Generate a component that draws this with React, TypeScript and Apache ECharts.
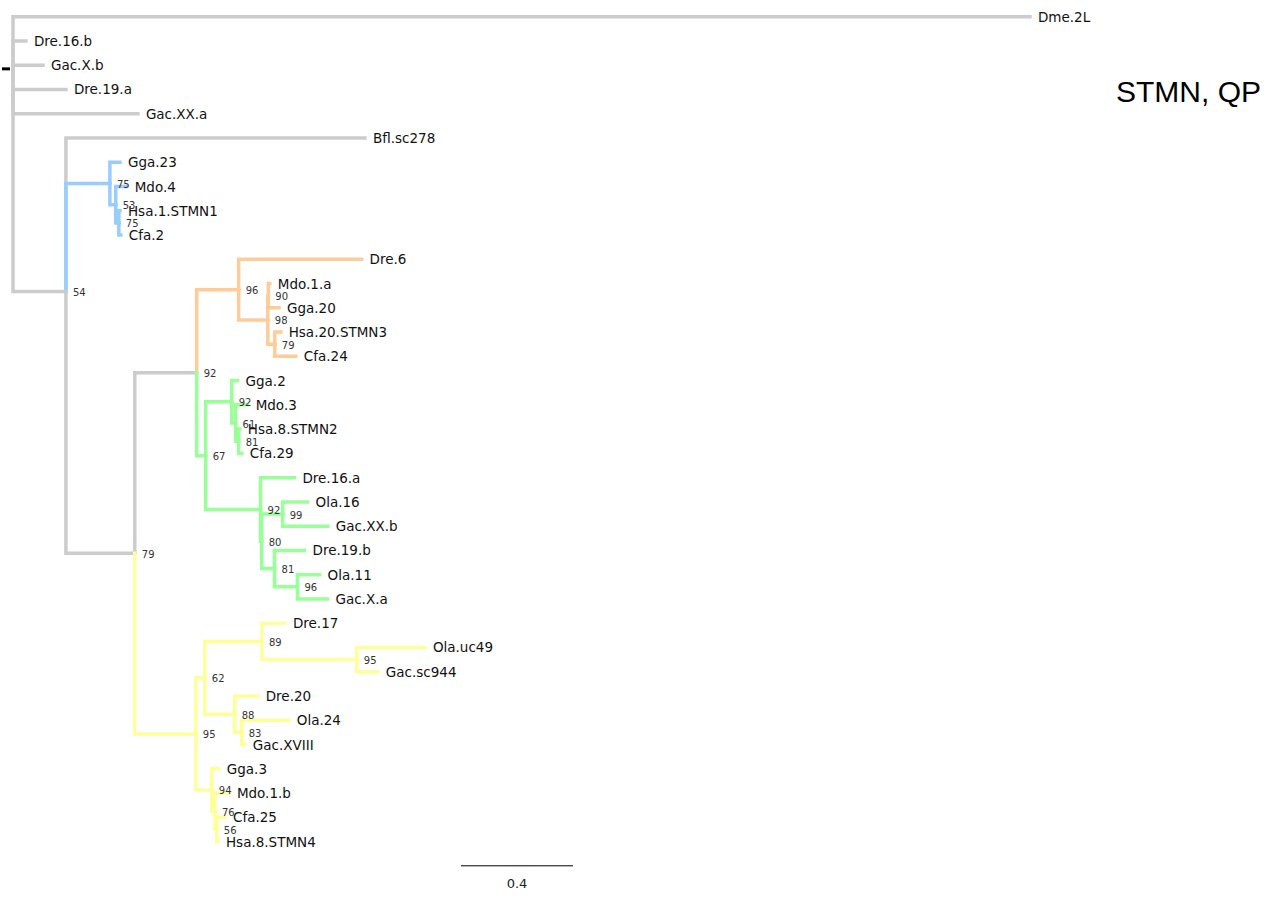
import React, { useEffect, useRef } from "react";
import * as echarts from "echarts";

// Each node: [id, parent id, branch length, bootstrap support]
type TreeNode = [string, string | null, number, number | null];

const greyNodes: TreeNode[] = [
  ["root", null, 0, null],
  ["Dme.2L", "root", 3.632, null],
  ["Dre.16.b", "root", 0.046, null],
  ["Gac.X.b", "root", 0.107, null],
  ["Dre.19.a", "root", 0.189, null],
  ["Gac.XX.a", "root", 0.446, null],
  ["_n54", "root", 0.189, 54],
  ["Bfl.sc278", "_n54", 1.068, null],
];

const blueNodes: TreeNode[] = [
  ["_b1", "_n54", 0.157, 75],
  ["Gga.23", "_b1", 0.036, null],
  ["_b2", "_b1", 0.021, 53],
  ["Mdo.4", "_b2", 0.039, null],
  ["_b3", "_b2", 0.011, 75],
  ["Hsa.1.STMN1", "_b3", 0.004, null],
  ["Cfa.2", "_b3", 0.007, null],
];

const greyInnerNodes: TreeNode[] = [
  ["_n79", "_n54", 0.246, 79],
  ["_n92", "_n79", 0.221, 92],
];

const orangeNodes: TreeNode[] = [
  ["_o1", "_n92", 0.15, 96],
  ["Dre.6", "_o1", 0.439, null],
  ["_o2", "_o1", 0.104, 98],
  ["_o3", "_o2", 0.002, 90],
  ["Mdo.1.a", "_o3", 0.005, null],
  ["Gga.20", "_o3", 0.038, null],
  ["_o4", "_o2", 0.025, 79],
  ["Hsa.20.STMN3", "_o4", 0.021, null],
  ["Cfa.24", "_o4", 0.075, null],
];

const greenNodes: TreeNode[] = [
  ["_g1", "_n92", 0.032, 67],
  ["_g2", "_g1", 0.093, 92],
  ["Gga.2", "_g2", 0.021, null],
  ["_g3", "_g2", 0.014, 61],
  ["Mdo.3", "_g3", 0.043, null],
  ["_g4", "_g3", 0.011, 81],
  ["Hsa.8.STMN2", "_g4", 0.004, null],
  ["Cfa.29", "_g4", 0.011, null],
  ["_g5", "_g1", 0.196, 92],
  ["Dre.16.a", "_g5", 0.121, null],
  ["_g6", "_g5", 0.004, 80],
  ["_g7", "_g6", 0.075, 99],
  ["Ola.16", "_g7", 0.089, null],
  ["Gac.XX.b", "_g7", 0.161, null],
  ["_g8", "_g6", 0.046, 81],
  ["Dre.19.b", "_g8", 0.107, null],
  ["_g9", "_g8", 0.082, 96],
  ["Ola.11", "_g9", 0.079, null],
  ["Gac.X.a", "_g9", 0.107, null],
];

const yellowNodes: TreeNode[] = [
  ["_y1", "_n79", 0.218, 95],
  ["_y2", "_y1", 0.032, 62],
  ["_y3", "_y2", 0.204, 89],
  ["Dre.17", "_y3", 0.082, null],
  ["_y4", "_y3", 0.339, 95],
  ["Ola.uc49", "_y4", 0.243, null],
  ["Gac.sc944", "_y4", 0.075, null],
  ["_y5", "_y2", 0.107, 88],
  ["Dre.20", "_y5", 0.082, null],
  ["_y6", "_y5", 0.025, 83],
  ["Ola.24", "_y6", 0.168, null],
  ["Gac.XVIII", "_y6", 0.011, null],
  ["_y7", "_y1", 0.057, 94],
  ["Gga.3", "_y7", 0.025, null],
  ["_y8", "_y7", 0.011, 76],
  ["Mdo.1.b", "_y8", 0.05, null],
  ["_y9", "_y8", 0.007, 56],
  ["Cfa.25", "_y9", 0.029, null],
  ["Hsa.8.STMN4", "_y9", 0.004, null],
];

const cladeColors = ["#cccccc", "#99ccff", "#ffcc99", "#99ff99", "#ffff99"];
const cladeGroups: [TreeNode[], number][] = [
  [greyNodes, 0],
  [blueNodes, 1],
  [greyInnerNodes, 0],
  [orangeNodes, 2],
  [greenNodes, 3],
  [yellowNodes, 4],
];

const scaleBarStart = 1.6;
const scaleBarLength = 0.4;
const scaleBarRow = 35;
const rootMarkRow = 2.15;
const chartTitle = "STMN, QP";

function buildLayout() {
  const all: { id: string; parent: string | null; len: number; support: number | null; color: number }[] = [];
  cladeGroups.forEach(([list, color]) =>
    list.forEach(([id, parent, len, support]) => all.push({ id, parent, len, support, color }))
  );
  const children = new Map<string, string[]>();
  const info = new Map<string, (typeof all)[number]>();
  all.forEach((n) => {
    children.set(n.id, []);
    info.set(n.id, n);
  });
  all.forEach((n) => {
    if (n.parent) children.get(n.parent)!.push(n.id);
  });
  const pos = new Map<string, { x: number; y: number }>();
  let row = 0;
  const place = (id: string, x: number) => {
    const kids = children.get(id)!;
    if (kids.length === 0) {
      pos.set(id, { x, y: row++ });
      return;
    }
    const ys = kids.map((k) => {
      place(k, x + info.get(k)!.len);
      return pos.get(k)!.y;
    });
    pos.set(id, { x, y: ys.reduce((a, b) => a + b, 0) / ys.length });
  };
  place("root", 0);

  const branches: number[][] = [];
  const leaves: { x: number; y: number; name: string }[] = [];
  const supports: { x: number; y: number; value: number }[] = [];
  all.forEach((n) => {
    const p = pos.get(n.id)!;
    if (n.parent) {
      const pp = pos.get(n.parent)!;
      branches.push([pp.x, pp.y, p.x, p.y, n.color]);
    }
    if (children.get(n.id)!.length === 0) leaves.push({ x: p.x, y: p.y, name: n.id });
    if (n.support !== null) supports.push({ x: p.x, y: p.y, value: n.support });
  });
  return { branches, leaves, supports };
}

export default function App() {
  const ref = useRef<HTMLDivElement>(null);
  useEffect(() => {
    if (!ref.current) return;
    const chart = echarts.init(ref.current, undefined, { renderer: "svg" });
    const { branches, leaves, supports } = buildLayout();
    const rowPx = 24.26;
    const top = 16.7;
    const yMax = 36;
    const option: any = {
      animation: false,
      backgroundColor: "#ffffff",
      title: {
        text: chartTitle,
        left: 1116,
        top: 76,
        padding: 0,
        textStyle: { fontSize: 30, fontWeight: "normal", fontFamily: "Liberation Sans", color: "#000" },
      },
      grid: { left: 13, right: 153, top, bottom: 899 - top - yMax * rowPx },
      xAxis: { type: "value", min: 0, max: 4, show: false },
      yAxis: { type: "value", min: 0, max: yMax, inverse: true, show: false },
      series: [
        {
          type: "custom",
          data: branches,
          encode: { x: [0, 2], y: [1, 3] },
          renderItem: (_p: any, api: any) => {
            const p0 = api.coord([api.value(0), api.value(1)]);
            const p1 = api.coord([api.value(0), api.value(3)]);
            const p2 = api.coord([api.value(2), api.value(3)]);
            return {
              type: "polyline",
              shape: { points: [p0, p1, p2] },
              style: { stroke: cladeColors[api.value(4)], lineWidth: 3.5, fill: null, lineJoin: "miter", lineCap: "square" },
            };
          },
        },
        {
          type: "custom",
          data: [[0, rootMarkRow]],
          renderItem: (_p: any, api: any) => {
            const p = api.coord([api.value(0), api.value(1)]);
            return {
              type: "line",
              shape: { x1: p[0] - 11, y1: p[1], x2: p[0] - 3, y2: p[1] },
              style: { stroke: "#000", lineWidth: 3 },
            };
          },
        },
        {
          type: "custom",
          data: leaves.map((l) => [l.x, l.y]),
          renderItem: (params: any, api: any) => {
            const p = api.coord([api.value(0), api.value(1)]);
            return {
              type: "text",
              x: p[0] + 8,
              y: p[1],
              style: {
                text: leaves[params.dataIndex].name,
                fill: "#111",
                fontSize: 13.5,
                fontFamily: "DejaVu Sans",
                align: "left",
                verticalAlign: "middle",
              },
            };
          },
          z: 3,
        },
        {
          type: "custom",
          data: supports.map((s) => [s.x, s.y]),
          renderItem: (params: any, api: any) => {
            const p = api.coord([api.value(0), api.value(1)]);
            return {
              type: "text",
              x: p[0] + 7,
              y: p[1] + 1,
              style: {
                text: String(supports[params.dataIndex].value),
                fill: "#333",
                fontSize: 10,
                fontFamily: "DejaVu Sans",
                align: "left",
                verticalAlign: "middle",
              },
            };
          },
          z: 4,
        },
        {
          type: "custom",
          data: [[scaleBarStart, scaleBarStart + scaleBarLength, scaleBarRow]],
          renderItem: (_p: any, api: any) => {
            const a = api.coord([api.value(0), api.value(2)]);
            const b = api.coord([api.value(1), api.value(2)]);
            return {
              type: "group",
              children: [
                { type: "line", shape: { x1: a[0], y1: a[1], x2: b[0], y2: b[1] }, style: { stroke: "#000", lineWidth: 1 } },
                {
                  type: "text",
                  x: (a[0] + b[0]) / 2,
                  y: a[1] + 18,
                  style: {
                    text: String(scaleBarLength),
                    fill: "#222",
                    fontSize: 13,
                    fontFamily: "DejaVu Sans",
                    align: "center",
                    verticalAlign: "middle",
                  },
                },
              ],
            };
          },
        },
      ],
    };
    chart.setOption(option);
    return () => chart.dispose();
  }, []);
  return <div ref={ref} style={{ position: "absolute", left: 0, top: 0, width: 1286, height: 899 }} />;
}
